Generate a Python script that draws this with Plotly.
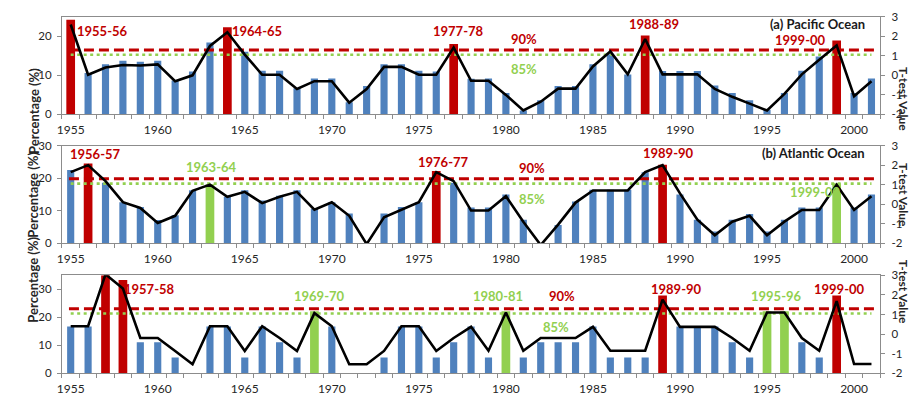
import plotly.graph_objects as go
from plotly.subplots import make_subplots

# ---------------------------------------------------------------- data
years = list(range(1955, 2002))

pacific_pct = [24.2, 10.6, 12.8, 13.7, 13.5, 13.7, 8.7, 11.0, 18.4, 22.3,
               16.0, 11.2, 11.2, 6.7, 9.2, 9.2, 3.1, 7.3, 12.8, 12.8,
               11.2, 11.0, 18.0, 9.1, 9.2, 5.5, 1.0, 3.6, 7.3, 7.3,
               12.8, 15.4, 10.2, 20.2, 11.1, 11.1, 11.1, 7.4, 5.5, 3.6,
               1.2, 5.5, 11.2, 14.8, 18.9, 5.5, 9.2]
pacific_t = [2.6, 0.03, 0.4, 0.53, 0.5, 0.56, -0.3, 0.0, 1.5, 2.2,
             1.06, 0.03, 0.03, -0.7, -0.3, -0.3, -1.4, -0.7, 0.43, 0.43,
             0.03, 0.03, 1.42, -0.28, -0.28, -1.0, -1.8, -1.35, -0.68, -0.68,
             0.45, 1.22, 0.05, 1.86, 0.05, 0.05, 0.05, -0.7, -1.1, -1.45,
             -1.8, -0.95, 0.05, 0.8, 1.53, -1.07, -0.3]

atlantic_pct = [22.5, 24.5, 18.6, 12.6, 11.1, 7.1, 8.6, 16.3, 18.1, 14.3,
                16.3, 13.1, 14.6, 16.3, 10.6, 12.6, 9.1, 0.0, 9.1, 11.1,
                12.6, 22.2, 18.6, 11.0, 11.0, 15.0, 7.2, 0.0, 5.6, 12.8,
                16.4, 16.4, 16.4, 21.8, 24.1, 15.0, 7.2, 3.6, 7.2, 9.0,
                3.6, 7.2, 11.0, 11.0, 18.4, 11.0, 15.0]
atlantic_t = [1.64, 2.0, 1.18, 0.1, -0.2, -0.97, -0.6, 0.68, 1.0, 0.38,
              0.63, 0.05, 0.38, 0.63, -0.28, 0.1, -0.6, -2.05, -0.68, -0.3,
              0.1, 1.64, 1.18, -0.33, -0.33, 0.41, -0.9, -2.1, -1.05, 0.08,
              0.7, 0.7, 0.7, 1.64, 2.0, 0.55, -0.8, -1.6, -0.9, -0.6,
              -1.6, -0.9, -0.3, -0.3, 0.99, -0.3, 0.41]

basin3_pct = [16.7, 16.7, 35.0, 33.3, 11.1, 11.1, 5.6, 0.0, 16.7, 16.7,
              5.6, 16.7, 11.1, 5.6, 22.2, 16.7, 0.0, 0.0, 5.6, 16.7,
              16.7, 5.6, 11.1, 16.7, 5.6, 22.2, 5.6, 11.1, 11.1, 11.1,
              16.7, 5.6, 5.6, 5.6, 27.8, 16.7, 16.7, 16.7, 11.1, 5.6,
              22.2, 22.2, 11.1, 5.6, 27.8, 0.0, 0.0]
basin3_t = [0.4, 0.4, 3.05, 2.33, -0.2, -0.2, -0.86, -1.54, 0.4, 0.4,
            -0.86, 0.4, -0.2, -0.86, 1.07, 0.4, -1.54, -1.54, -0.86, 0.4,
            0.4, -0.86, -0.2, 0.37, -0.85, 1.1, -0.85, -0.2, -0.2, -0.2,
            0.37, -0.85, -0.85, -0.85, 1.76, 0.37, 0.37, 0.37, -0.2, -0.85,
            1.1, 1.1, -0.2, -0.85, 1.68, -1.53, -1.53]

# years significant at the 90 % (red) and 85 % (green) levels
pacific_red, pacific_green = [1955, 1964, 1977, 1988, 1999], []
atlantic_red, atlantic_green = [1956, 1976, 1989], [1963, 1999]
basin3_red, basin3_green = [1957, 1958, 1989, 1999], [1969, 1980, 1995, 1996]

pct_max = [25, 30, 35]
pct_ticks = [[0, 10, 20], [0, 10, 20, 30], [0, 10, 20, 30]]
t_ticks = [-2, -1, 0, 1, 2, 3]
t_ticktext = ["-2", "-1", "0", "1", "2", "3"]

T_90 = 1.3
T_85 = 1.05

panel_titles = ["(a) Pacific Ocean", "(b) Atlantic Ocean", None]

# event labels: (text, colour key, year position, t-value position)
panel_labels = [
    [("1955-56", "red", 1956.8, 2.25), ("1964-65", "red", 1965.7, 2.25),
     ("1977-78", "red", 1977.3, 2.28), ("90%", "red", 1981.05, 1.85),
     ("85%", "green", 1981.05, 0.3), ("1988-89", "red", 1988.5, 2.6),
     ("1999-00", "red", 1996.95, 1.8)],
    [("1956-57", "red", 1956.4, 2.55), ("1963-64", "green", 1963.1, 1.89),
     ("1976-77", "red", 1976.4, 2.14), ("90%", "red", 1981.5, 1.84),
     ("85%", "green", 1981.5, 0.25), ("1989-90", "red", 1989.35, 2.6),
     ("1999-00", "green", 1997.8, 0.62)],
    [("1957-58", "red", 1959.5, 2.3), ("1969-70", "green", 1969.3, 1.92),
     ("1980-81", "green", 1979.55, 1.92), ("90%", "red", 1983.25, 1.92),
     ("85%", "green", 1982.85, 0.37), ("1989-90", "red", 1989.8, 2.28),
     ("1995-96", "green", 1995.55, 1.92), ("1999-00", "red", 1999.15, 2.28)],
]

# ---------------------------------------------------------------- style
BLUE = "#4f81bd"
RED = "#c00000"
GREEN = "#92d050"
AXIS = "#8c8c8c"
TEXT = "#262626"
FONT = "Lato"
W, H = 912, 402

panels = [
    (pacific_pct, pacific_t, pacific_red, pacific_green),
    (atlantic_pct, atlantic_t, atlantic_red, atlantic_green),
    (basin3_pct, basin3_t, basin3_red, basin3_green),
]

# plot-area placement in pixels (left, right) and (top, bottom) per row
x_px = (57.3, 880.0)
rows_px = [(10.0, 111.0), (143.3, 244.0), (277.3, 378.5)]

fig = make_subplots(rows=3, cols=1, specs=[[{"secondary_y": True}]] * 3)

for i, (pct, tval, red, green) in enumerate(panels):
    row = i + 1
    colors, widths = [], []
    for y in years:
        if y in red:
            colors.append(RED)
            widths.append(0.5)
        elif y in green:
            colors.append(GREEN)
            widths.append(0.5)
        else:
            colors.append(BLUE)
            widths.append(0.41)
    fig.add_trace(go.Bar(x=years, y=pct, marker=dict(color=colors, line=dict(width=0)),
                         width=widths, showlegend=False),
                  row=row, col=1, secondary_y=False)
    fig.add_trace(go.Scatter(x=[years[0], years[-1]], y=[T_85, T_85], mode="lines",
                             line=dict(color=GREEN, width=2.6, dash="3px,3.5px"),
                             showlegend=False),
                  row=row, col=1, secondary_y=True)
    fig.add_trace(go.Scatter(x=[years[0] - 0.1, years[-1] + 0.35], y=[T_90, T_90], mode="lines",
                             line=dict(color=RED, width=3, dash="10px,5px"),
                             showlegend=False),
                  row=row, col=1, secondary_y=True)
    fig.add_trace(go.Scatter(x=years, y=tval, mode="lines",
                             line=dict(color="black", width=2.6),
                             showlegend=False),
                  row=row, col=1, secondary_y=True)

layout = dict(
    width=W, height=H,
    margin=dict(l=0, r=0, t=0, b=0),
    paper_bgcolor="white", plot_bgcolor="white",
    barmode="overlay",
    font=dict(family=FONT, color=TEXT),
)

annotations = []
for i in range(3):
    xa = "xaxis" if i == 0 else f"xaxis{i + 1}"
    ya_left = f"yaxis{2 * i + 1}" if i > 0 else "yaxis"
    ya_right = f"yaxis{2 * i + 2}"
    top, bottom = rows_px[i]
    ydom = [1 - bottom / H, 1 - top / H]
    layout[xa] = dict(
        domain=[x_px[0] / W, x_px[1] / W],
        range=[years[0] - 0.5, years[-1] + 0.5],
        tickvals=[1955, 1960, 1965, 1970, 1975, 1980, 1985, 1990, 1995, 2000],
        ticks="", ticklabelstandoff=4,
        tickfont=dict(size=12, color=TEXT, family=FONT),
        showline=True, linecolor=AXIS, linewidth=1, mirror=True,
        showgrid=False, zeroline=False,
        minor=dict(ticks="outside", tick0=years[0] - 0.5, dtick=1,
                   ticklen=4, tickcolor=AXIS, showgrid=False),
    )
    layout[ya_left] = dict(
        domain=ydom, range=[0, pct_max[i]], tickvals=pct_ticks[i],
        ticks="outside", ticklen=4, tickcolor=AXIS, ticklabelstandoff=3,
        tickfont=dict(size=11.5, color=TEXT, family=FONT),
        showline=True, linecolor=AXIS, linewidth=1,
        showgrid=False, zeroline=False,
    )
    layout[ya_right] = dict(
        domain=ydom, range=[-2, 3], tickvals=t_ticks, ticktext=t_ticktext,
        ticks="outside", ticklen=4, tickcolor=AXIS, ticklabelstandoff=4,
        tickfont=dict(size=11.5, color=TEXT, family=FONT),
        showline=True, linecolor=AXIS, linewidth=1,
        showgrid=False, zeroline=False,
    )

    xref = "x" if i == 0 else f"x{i + 1}"
    yref_t = f"y{2 * i + 2}"
    mid = 1 - (top + bottom) / 2 / H
    annotations.append(dict(text="<b>Percentage (%)</b>", textangle=-90,
                            xref="paper", yref="paper", x=18.5 / W, y=mid,
                            showarrow=False, font=dict(size=13, color=TEXT, family=FONT)))
    annotations.append(dict(text="<b>T-test Value</b>", textangle=90,
                            xref="paper", yref="paper", x=1.0, xanchor="right", y=mid,
                            borderpad=0, showarrow=False,
                            font=dict(size=12, color=TEXT, family=FONT)))
    if panel_titles[i]:
        annotations.append(dict(text=f"<b>{panel_titles[i]}</b>",
                                xref="paper", yref="paper",
                                x=867 / W, xanchor="right",
                                y=1 - (top + 7.5) / H, yanchor="middle",
                                showarrow=False, font=dict(size=13, color="#1a1a1a", family=FONT)))
    for text, ckey, lx, ly in panel_labels[i]:
        annotations.append(dict(text=f"<b>{text}</b>", xref=xref, yref=yref_t,
                                x=lx, y=ly, showarrow=False,
                                font=dict(size=13, color=RED if ckey == "red" else GREEN,
                                          family=FONT)))

layout["annotations"] = annotations
fig.update_layout(**layout)

fig.write_html("out.html")
